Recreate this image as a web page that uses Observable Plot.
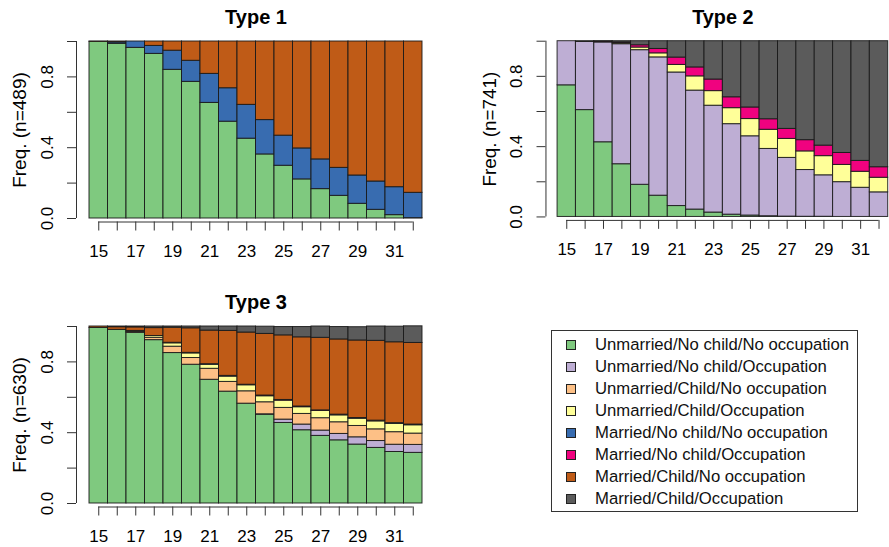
<!DOCTYPE html>
<html>
<head>
<meta charset="utf-8">
<script src="https://cdn.jsdelivr.net/npm/d3@7"></script>
<script src="https://cdn.jsdelivr.net/npm/@observablehq/plot@0.6"></script>
<style>
  body { margin: 0; background: #fff; }
  #root { position: relative; width: 889px; height: 547px; overflow: hidden; font-family: "Liberation Sans", Arial, Helvetica, sans-serif; }
  .panel { position: absolute; }
  #legend { position: absolute; left: 551px; top: 330px; width: 307px; height: 182px; border: 1px solid #333; box-sizing: border-box; }
  .lrow { position: absolute; left: 0; height: 22px; line-height: 22px; font-size: 16.7px; color: #111; white-space: nowrap; }
  .lsw { position: absolute; left: 14px; top: 6px; width: 10px; height: 10px; border: 1px solid #222; box-sizing: border-box; }
  .ltx { position: absolute; left: 43px; top: 0; }
</style>
</head>
<body>
<div id="root"></div>
<script>
// ---- categories ----
const ages = [15, 16, 17, 18, 19, 20, 21, 22, 23, 24, 25, 26, 27, 28, 29, 30, 31, 32];
const xTickLabels = [15, 17, 19, 21, 23, 25, 27, 29, 31];
const yTicks = [0, 0.2, 0.4, 0.6, 0.8, 1.0];
const yTickLabels = [0, 0.4, 0.8];
const states = [
  "Unmarried/No child/No occupation",
  "Unmarried/No child/Occupation",
  "Unmarried/Child/No occupation",
  "Unmarried/Child/Occupation",
  "Married/No child/No occupation",
  "Married/No child/Occupation",
  "Married/Child/No occupation",
  "Married/Child/Occupation"
];
const stateColors = ["#7fc97f", "#beaed4", "#fdc086", "#ffff99", "#386cb0", "#f0027f", "#bf5b17", "#5b5b5b"];

// ---- Type 1 (n=489): one array per state, one value per age ----
const type1Titles = ["Type 1", 489];
const t1_green  = [0.998,0.987,0.964,0.930,0.840,0.772,0.653,0.547,0.451,0.362,0.298,0.221,0.166,0.128,0.083,0.049,0.019,0.002];
const t1_lav    = [0,0,0,0,0,0,0,0,0,0,0,0,0,0,0,0,0,0];
const t1_orange = [0,0,0,0,0,0,0,0,0,0,0,0,0,0,0,0,0,0];
const t1_yellow = [0,0,0,0,0,0,0,0,0,0,0,0,0,0,0,0,0,0];
const t1_blue   = [0,0.008,0.036,0.045,0.108,0.119,0.164,0.189,0.191,0.194,0.170,0.175,0.168,0.158,0.160,0.160,0.158,0.143];
const t1_pink   = [0,0,0,0,0,0,0,0,0,0,0,0,0,0,0,0,0,0];
const t1_brown  = [0.002,0.005,0,0.025,0.052,0.109,0.183,0.264,0.358,0.444,0.532,0.604,0.666,0.714,0.757,0.791,0.823,0.855];
const t1_gray   = [0,0,0,0,0,0,0,0,0,0,0,0,0,0,0,0,0,0];

// ---- Type 2 (n=741) ----
const type2Titles = ["Type 2", 741];
const t2_green  = [0.749,0.608,0.425,0.300,0.183,0.121,0.062,0.042,0.025,0.013,0.008,0.004,0.002,0.001,0.001,0,0,0];
const t2_lav    = [0.251,0.388,0.568,0.683,0.766,0.787,0.760,0.677,0.608,0.515,0.451,0.383,0.334,0.266,0.236,0.198,0.166,0.140];
const t2_orange = [0,0,0,0,0,0,0,0,0,0,0,0,0,0,0,0,0,0];
const t2_yellow = [0,0,0.003,0.006,0.015,0.023,0.043,0.081,0.083,0.091,0.098,0.109,0.108,0.106,0.109,0.098,0.091,0.083];
const t2_blue   = [0,0,0,0,0,0,0,0,0,0,0,0,0,0,0,0,0,0];
const t2_pink   = [0,0,0.002,0.004,0.013,0.025,0.042,0.051,0.066,0.062,0.066,0.060,0.057,0.064,0.060,0.068,0.062,0.060];
const t2_brown  = [0,0,0,0,0,0,0,0,0,0,0,0,0,0,0,0,0,0];
const t2_gray   = [0,0.004,0.002,0.007,0.023,0.044,0.093,0.149,0.218,0.319,0.377,0.444,0.499,0.563,0.594,0.636,0.681,0.717];

// ---- Type 3 (n=630) ----
const type3Titles = ["Type 3", 630];
const t3_green  = [0.992,0.981,0.964,0.923,0.850,0.784,0.699,0.632,0.564,0.502,0.455,0.414,0.382,0.357,0.333,0.314,0.291,0.286];
const t3_lav    = [0,0,0,0,0,0,0,0,0,0.002,0.019,0.032,0.030,0.036,0.041,0.039,0.041,0.045];
const t3_orange = [0,0,0.005,0.013,0.036,0.038,0.062,0.055,0.070,0.068,0.066,0.060,0.070,0.066,0.064,0.066,0.071,0.064];
const t3_yellow = [0,0,0.006,0.010,0.019,0.026,0.023,0.030,0.034,0.034,0.041,0.038,0.041,0.039,0.041,0.045,0.047,0.047];
const t3_blue   = [0,0,0,0,0.003,0.003,0.003,0.004,0.003,0,0,0.002,0,0.004,0.004,0.004,0.004,0.004];
const t3_pink   = [0,0,0,0,0,0,0,0,0,0.004,0.004,0.002,0.003,0,0,0,0,0];
const t3_brown  = [0.008,0.015,0.020,0.045,0.085,0.139,0.190,0.254,0.295,0.348,0.365,0.391,0.410,0.425,0.438,0.451,0.457,0.461];
const t3_gray   = [0,0.004,0.005,0.009,0.007,0.010,0.023,0.025,0.034,0.041,0.047,0.058,0.064,0.070,0.075,0.081,0.088,0.094];

const type1 = [t1_green, t1_lav, t1_orange, t1_yellow, t1_blue, t1_pink, t1_brown, t1_gray];
const type2 = [t2_green, t2_lav, t2_orange, t2_yellow, t2_blue, t2_pink, t2_brown, t2_gray];
const type3 = [t3_green, t3_lav, t3_orange, t3_yellow, t3_blue, t3_pink, t3_brown, t3_gray];

const FONT = '"Liberation Sans", Arial, Helvetica, sans-serif';
const INK = "#1a1a1a";

function panel(titleInfo, freqs, box) {
  const [title, n] = titleInfo;
  const rows = [];
  ages.forEach((age, i) => states.forEach((s, j) => rows.push({age, state: s, value: freqs[j][i]})));
  const chart = Plot.plot({
    width: box.width,
    height: 270,
    marginLeft: box.mLeft,
    marginRight: box.mRight,
    marginTop: 41,
    marginBottom: 52,
    style: {fontFamily: FONT, fontSize: "17px", color: "#000", background: "transparent", overflow: "visible"},
    x: {type: "linear", domain: [ages[0] - 0.5, ages[ages.length - 1] + 0.5], axis: null},
    y: {domain: [0, 1], axis: null},
    color: {domain: states, range: stateColors},
    marks: [
      Plot.rectY(rows, {
        x1: d => d.age - 0.5, x2: d => d.age + 0.5, y: "value",
        fill: "state", stroke: INK, strokeWidth: 1, strokeOpacity: 0.9
      }),
      Plot.axisY(yTicks, {
        anchor: "left", tickSize: 9, tickPadding: 15, tickRotate: -90, dx: box.axisDx,
        tickFormat: d => yTickLabels.includes(d) ? d.toFixed(1) : "",
        fontSize: 17, stroke: "#333", label: null
      }),
      Plot.ruleX([ages[0] - 0.5], {y1: 0, y2: 1, dx: box.axisDx, stroke: "#333"}),
      Plot.axisX(ages, {
        anchor: "bottom", tickSize: 9, tickPadding: 14, dy: 3.5,
        tickFormat: d => xTickLabels.includes(d) ? String(d) : "",
        fontSize: 17, stroke: "#333", label: null
      }),
      Plot.ruleY([0], {x1: ages[0], x2: ages[ages.length - 1], dy: 3.5, stroke: "#333"}),
      Plot.text([title], {frameAnchor: "top", dy: -24, fontSize: 20, fontWeight: "bold", lineAnchor: "middle", fill: "#000"}),
      Plot.text([`Freq. (n=${n})`], {
        frameAnchor: "left", dx: box.labelX - box.mLeft, rotate: -90,
        textAnchor: "middle", lineAnchor: "middle", fontSize: 19, fill: "#000"
      })
    ]
  });
  const wrap = document.createElement("div");
  wrap.className = "panel";
  wrap.style.left = box.left + "px";
  wrap.style.top = box.top + "px";
  wrap.appendChild(chart);
  document.getElementById("root").appendChild(wrap);
}

panel(type1Titles, type1, {left: 0, top: 0, width: 445, mLeft: 89, mRight: 23, axisDx: -13, labelX: 19.5});
panel(type2Titles, type2, {left: 470, top: 0, width: 422, mLeft: 87.7, mRight: 1.3, axisDx: -11.7, labelX: 20});
panel(type3Titles, type3, {left: 0, top: 285, width: 445, mLeft: 89, mRight: 23, axisDx: -13, labelX: 19.5});

// ---- legend ----
const legend = d3.select("#root").append("div").attr("id", "legend");
states.forEach((s, i) => {
  const row = legend.append("div").attr("class", "lrow").style("top", (2.6 + i * 22.04) + "px");
  row.append("div").attr("class", "lsw").style("background", stateColors[i]);
  row.append("div").attr("class", "ltx").text(s);
});
</script>
</body>
</html>
